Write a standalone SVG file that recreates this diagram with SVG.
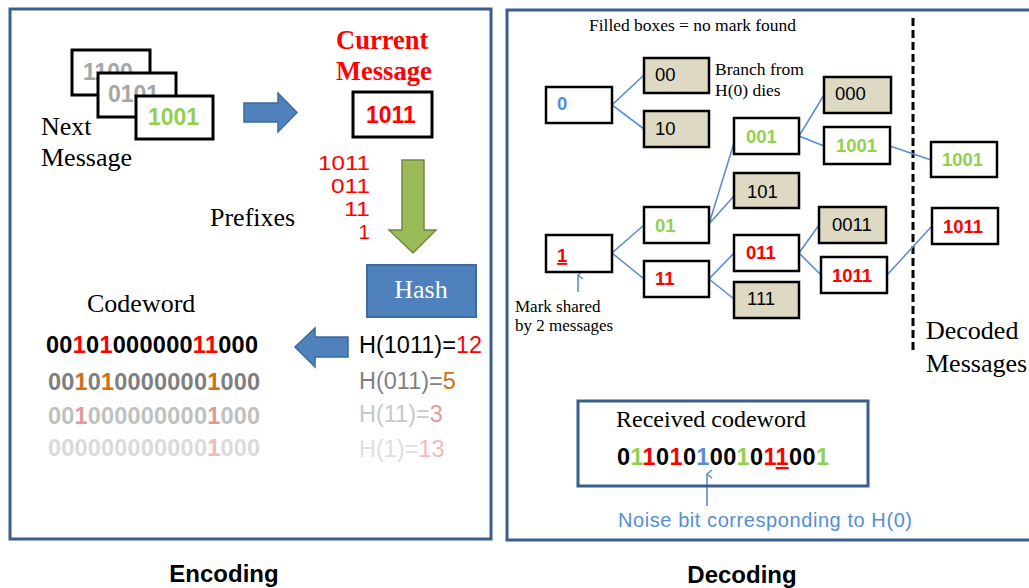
<svg xmlns="http://www.w3.org/2000/svg" width="1029" height="588" viewBox="0 0 1029 588">
<style>
.serif{font-family:"Liberation Serif","Times New Roman",serif;fill:#000}
.sans{font-family:"Liberation Sans",Arial,sans-serif}
.b{font-weight:bold}
.panel{fill:#fff;stroke:#3b5e8c;stroke-width:3}
.box{fill:#fff;stroke:#000;stroke-width:3}
.node{fill:#fff;stroke:#000;stroke-width:2.5}
.filled{fill:#ddd9c3;stroke:#000;stroke-width:2.5}
.conn{stroke:#5b8fd0;stroke-width:1.6;fill:none}
.nt{font-family:"Liberation Sans",Arial,sans-serif;font-size:18.5px;font-weight:bold}
.ft{font-family:"Liberation Sans",Arial,sans-serif;font-size:18.5px;fill:#000}
.g{fill:#92d050}.r{fill:#ff0000}.bl{fill:#558ed5}.k{fill:#000}
</style>
<defs>
<marker id="up" markerWidth="10" markerHeight="10" refX="5" refY="1" orient="auto-start-reverse" markerUnits="userSpaceOnUse" viewBox="0 0 10 10">
<polyline points="1,6 5,1 9,6" fill="none" stroke="#5b8fd0" stroke-width="1.5"/>
</marker>
</defs>
<rect width="1029" height="588" fill="#fff"/>

<!-- Encoding panel -->
<g id="encoding-panel">
<rect class="panel" x="10" y="9" width="481" height="530"/>
</g>
<g id="next-message">
<rect class="box" x="72" y="50" width="78" height="45"/>
<text class="sans b" x="83" y="80" font-size="23" fill="#a6a6a6">1100</text>
<rect class="box" x="98" y="73" width="78" height="44"/>
<text class="sans b" x="108" y="102" font-size="23" fill="#a6a6a6">0101</text>
<rect class="box" x="136" y="96" width="77" height="43"/>
<text class="sans b g" x="148" y="125" font-size="23">1001</text>
<text class="serif" x="41" y="135" font-size="26">Next</text>
<text class="serif" x="41" y="166" font-size="26">Message</text>
</g>
<g id="right-arrow">
<polygon points="244,103 278,103 278,93 297,112.5 278,132 278,122 244,122" fill="#4f81bd" stroke="#3d6a9f" stroke-width="1.5"/>
</g>
<g id="current-message">
<text class="serif b" x="336" y="49" font-size="26.5" style="fill:#ff0000">Current</text>
<text class="serif b" x="336" y="80" font-size="26.5" style="fill:#ff0000">Message</text>
<rect class="box" x="353" y="92" width="79" height="45"/>
<text class="sans b r" x="366" y="123" font-size="23">1011</text>
</g>
<g id="prefixes" class="sans r" font-size="20.5" text-anchor="end">
<text x="370" y="170" textLength="52" lengthAdjust="spacingAndGlyphs">1011</text>
<text x="370" y="193" textLength="39" lengthAdjust="spacingAndGlyphs">011</text>
<text x="370" y="216" textLength="26" lengthAdjust="spacingAndGlyphs">11</text>
<text x="370" y="239">1</text>
</g>
<text class="serif" x="210" y="226" font-size="26">Prefixes</text>
<g id="down-arrow">
<polygon points="402,160 424,160 424,230 436,230 413,253 389,230 402,230" fill="#9bbb59" stroke="#71893f" stroke-width="1.5"/>
</g>
<g id="hash">
<rect x="367" y="265" width="109" height="52" fill="#4f81bd" stroke="#3d6a9f" stroke-width="2"/>
<text class="serif" x="421" y="298" font-size="26" text-anchor="middle" style="fill:#fff">Hash</text>
</g>
<g id="left-arrow">
<polygon points="295,347 315,328 315,337 348,337 348,357 315,357 315,367" fill="#4f81bd" stroke="#3d6a9f" stroke-width="1.5"/>
</g>
<g id="hash-values" class="sans" font-size="23.5">
<text x="359" y="353" fill="#000">H(1011)=<tspan fill="#ff0000">12</tspan></text>
<text x="359" y="389" fill="#7f7f7f">H(011)=<tspan fill="#d0701a">5</tspan></text>
<text x="359" y="422" fill="#c8c8c8">H(11)=<tspan fill="#e09a9a">3</tspan></text>
<text x="359" y="457" fill="#dedede">H(1)=<tspan fill="#f0baba">13</tspan></text>
</g>
<g id="codeword">
<text class="serif" x="87" y="312" font-size="26">Codeword</text>
<g class="sans b" font-size="23.5">
<text x="46" y="353" textLength="212" fill="#000">00<tspan fill="#ff0000">1</tspan>0<tspan fill="#ff0000">1</tspan>000000<tspan fill="#ff0000">11</tspan>000</text>
<text x="48" y="390" textLength="212" fill="#7f7f7f">00<tspan fill="#d0701a">1</tspan>0<tspan fill="#d0701a">1</tspan>0000000<tspan fill="#d0701a">1</tspan>000</text>
<text x="48" y="424" textLength="212" fill="#c0c0c0">00<tspan fill="#e09a9a">1</tspan>000000000<tspan fill="#e09a9a">1</tspan>000</text>
<text x="48" y="456" textLength="212" fill="#dadada">000000000000<tspan fill="#f0baba">1</tspan>000</text>
</g>
</g>
<text id="encoding-label" class="sans b" x="224" y="582" font-size="24" text-anchor="middle" fill="#000">Encoding</text>

<!-- Decoding panel -->
<g id="decoding-panel">
<rect class="panel" x="507" y="10" width="530" height="530"/>
</g>
<text class="serif" x="589" y="31" font-size="17.5" textLength="207">Filled boxes = no mark found</text>
<line x1="913" y1="18" x2="913" y2="352" stroke="#000" stroke-width="3" stroke-dasharray="8 4"/>

<g id="connectors">
<polyline class="conn" points="644,75 612,105 644,129"/>
<polyline class="conn" points="824,95 799,136 824,146"/>
<line class="conn" x1="890" y1="146" x2="931" y2="160"/>
<polyline class="conn" points="734,143 709,224 734,196"/>
<polyline class="conn" points="644,225 612,253 644,279"/>
<polyline class="conn" points="734,253 709,279 734,299"/>
<polyline class="conn" points="819,225 799,253 821,275"/>
<line class="conn" x1="887" y1="275" x2="932" y2="226"/>
<line class="conn" x1="578" y1="292" x2="578" y2="275" marker-end="url(#up)"/>
<line class="conn" x1="707" y1="506" x2="707" y2="474" marker-end="url(#up)"/>
</g>

<g id="n-0"><rect class="node" x="546" y="87" width="66" height="36"/><text class="nt bl" x="557" y="110">0</text></g>
<g id="n-00"><rect class="filled" x="644" y="58" width="65" height="35"/><text class="ft" x="655" y="81">00</text></g>
<g id="n-10"><rect class="filled" x="644" y="111" width="65" height="36"/><text class="ft" x="655" y="135">10</text></g>
<g id="branch-note">
<text class="serif" x="715" y="75" font-size="17.5">Branch from</text>
<text class="serif" x="715" y="96" font-size="17.5">H(0) dies</text>
</g>
<g id="n-000"><rect class="filled" x="824" y="77" width="67" height="36"/><text class="ft" x="835" y="100">000</text></g>
<g id="n-001"><rect class="node" x="734" y="118" width="65" height="36"/><text class="nt g" x="746" y="143">001</text></g>
<g id="n-1001"><rect class="node" x="824" y="127" width="66" height="37"/><text class="nt g" x="836" y="152">1001</text></g>
<g id="d-1001"><rect class="node" x="931" y="142" width="66" height="35"/><text class="nt g" x="942" y="166">1001</text></g>
<g id="n-101"><rect class="filled" x="734" y="173" width="65" height="35"/><text class="ft" x="747" y="198">101</text></g>
<g id="n-01"><rect class="node" x="644" y="207" width="65" height="36"/><text class="nt g" x="655" y="232">01</text></g>
<g id="n-1"><rect class="node" x="546" y="235" width="66" height="37"/><text class="nt r" x="557" y="262" text-decoration="underline">1</text></g>
<g id="n-11"><rect class="node" x="644" y="261" width="65" height="36"/><text class="nt r" x="655" y="285">11</text></g>
<g id="n-011"><rect class="node" x="734" y="235" width="65" height="36"/><text class="nt r" x="746" y="259">011</text></g>
<g id="n-111"><rect class="filled" x="734" y="282" width="65" height="36"/><text class="ft" x="747" y="305">111</text></g>
<g id="n-0011"><rect class="filled" x="819" y="207" width="67" height="36"/><text class="ft" x="832" y="231">0011</text></g>
<g id="n-1011"><rect class="node" x="821" y="257" width="66" height="36"/><text class="nt r" x="832" y="282">1011</text></g>
<g id="d-1011"><rect class="node" x="932" y="208" width="66" height="36"/><text class="nt r" x="943" y="233">1011</text></g>

<g id="mark-note">
<text class="serif" x="515" y="312" font-size="17">Mark shared</text>
<text class="serif" x="515" y="331" font-size="17">by 2 messages</text>
</g>
<g id="decoded-label">
<text class="serif" x="926" y="339" font-size="26">Decoded</text>
<text class="serif" x="926" y="372" font-size="26">Messages</text>
</g>
<g id="received">
<rect x="578" y="401" width="290" height="85" fill="none" stroke="#3b5e8c" stroke-width="3"/>
<text class="serif" x="616" y="427" font-size="24">Received codeword</text>
<text class="sans b" x="617" y="465" font-size="23.5" textLength="212" fill="#000">0<tspan class="g">1</tspan><tspan class="r">1</tspan>0<tspan class="r">1</tspan>0<tspan class="bl">1</tspan>00<tspan class="g">1</tspan>0<tspan class="r">1</tspan><tspan class="r" text-decoration="underline">1</tspan>00<tspan class="g">1</tspan></text>
</g>
<text class="sans bl" x="618" y="527" font-size="20" textLength="294">Noise bit corresponding to H(0)</text>
<text id="decoding-label" class="sans b" x="742" y="583" font-size="24" text-anchor="middle" fill="#000">Decoding</text>
</svg>
